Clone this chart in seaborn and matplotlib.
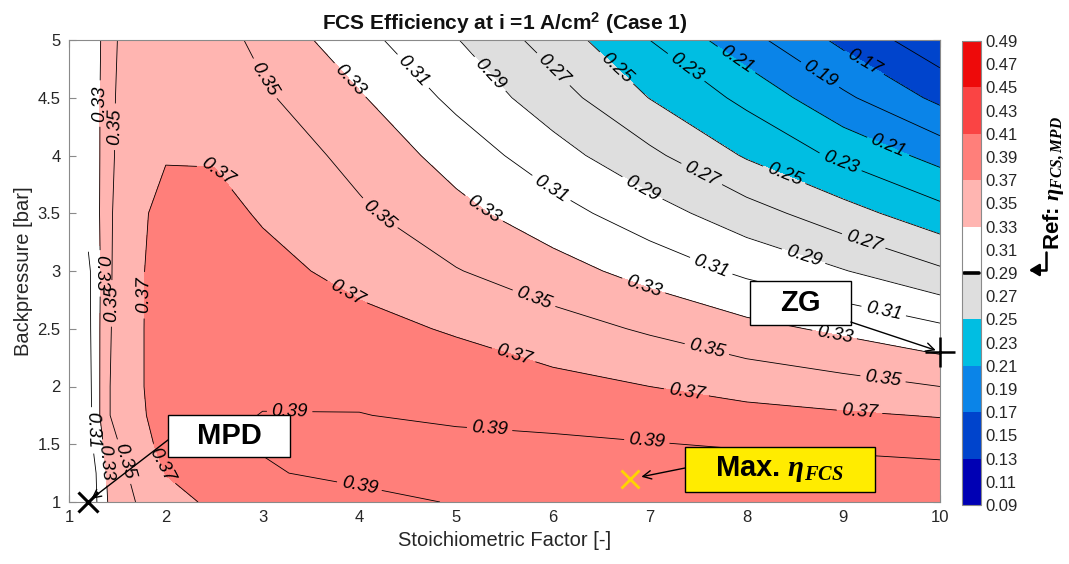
import numpy as np
import matplotlib
matplotlib.use("Agg")
import matplotlib.pyplot as plt
import seaborn as sns
from matplotlib.patches import Rectangle
from matplotlib.ticker import FormatStrFormatter

# ---------------- data ----------------
stoich = [1.2, 1.3, 1.4, 1.5, 1.75, 2.0, 2.5, 3.0, 4.0, 5.0, 6.0, 7.0, 8.0, 9.0, 10.0]
backpressure = [1.0, 1.25, 1.5, 1.75, 2.0, 2.5, 3.0, 3.5, 4.0, 4.5, 5.0]

eff_p100 = [0.295, 0.312, 0.330, 0.338, 0.354, 0.364, 0.373, 0.377, 0.385, 0.391, 0.394, 0.395, 0.395, 0.394, 0.393]
eff_p125 = [0.298, 0.313, 0.333, 0.344, 0.358, 0.3705, 0.378, 0.3885, 0.394, 0.397, 0.399, 0.3995, 0.399, 0.398, 0.396]
eff_p150 = [0.300, 0.323, 0.336, 0.3487, 0.364, 0.376, 0.386, 0.391, 0.395, 0.395, 0.394, 0.391, 0.388, 0.386, 0.383]
eff_p175 = [0.302, 0.326, 0.348, 0.356, 0.368, 0.378, 0.386, 0.3905, 0.3905, 0.3868, 0.3833, 0.3797, 0.3761, 0.3725, 0.3689]
eff_p200 = [0.303, 0.326, 0.348, 0.356, 0.369, 0.379, 0.385, 0.387, 0.386, 0.382, 0.376, 0.370, 0.363, 0.357, 0.350]
eff_p250 = [0.305, 0.326, 0.347, 0.355, 0.369, 0.379, 0.383, 0.382, 0.376, 0.368, 0.358, 0.3475, 0.336, 0.326, 0.314]
eff_p300 = [0.306, 0.325, 0.346, 0.355, 0.369, 0.377, 0.380, 0.376, 0.364, 0.351, 0.338, 0.3225, 0.306, 0.291, 0.273]
eff_p350 = [0.318, 0.327, 0.346, 0.354, 0.368, 0.375, 0.376, 0.368, 0.353, 0.336, 0.318, 0.2986, 0.2785, 0.258, 0.237]
eff_p400 = [0.318, 0.327, 0.343, 0.353, 0.362, 0.369, 0.3685, 0.362, 0.344, 0.322, 0.298, 0.2745, 0.248, 0.2255, 0.203]
eff_p450 = [0.318, 0.327, 0.342, 0.352, 0.361, 0.365, 0.362, 0.353, 0.332, 0.305, 0.279, 0.2495, 0.225, 0.194, 0.165]
eff_p500 = [0.318, 0.327, 0.338, 0.350, 0.358, 0.362, 0.358, 0.345, 0.3165, 0.291, 0.261, 0.230, 0.197, 0.165, 0.136]

fill_levels = [0.09, 0.13, 0.17, 0.21, 0.25, 0.29, 0.33, 0.37, 0.41, 0.45, 0.49]
band_colors = ["#0000B4", "#0044CC", "#0A84E8", "#00BEE2", "#DEDEDE",
               "#FFFFFF", "#FFB5B1", "#FF7F7A", "#FA4444", "#EE0A0A"]
line_levels = [0.15, 0.17, 0.19, 0.21, 0.23, 0.25, 0.27, 0.29, 0.31, 0.33, 0.35, 0.37, 0.39]
cbar_ticks = [0.09, 0.11, 0.13, 0.15, 0.17, 0.19, 0.21, 0.23, 0.25, 0.27, 0.29,
              0.31, 0.33, 0.35, 0.37, 0.39, 0.41, 0.43, 0.45, 0.47, 0.49]
ref_eff = 0.29

mpd_point = (1.2, 1.0)
zg_point = (10.0, 2.3)
max_point = (6.8, 1.2)

# ---------------- layout helpers (label anchors, boxes) ----------------
label_spots = {
    "0.17": [(9.22, 4.81)],
    "0.19": [(8.76, 4.70)],
    "0.21": [(7.88, 4.81), (9.45, 4.05)],
    "0.23": [(7.34, 4.72), (8.97, 3.94)],
    "0.25": [(6.54, 4.65), (8.38, 3.81)],
    "0.27": [(6.02, 4.76), (7.52, 3.81), (9.20, 3.23)],
    "0.29": [(5.28, 4.65), (6.90, 3.68), (8.58, 3.10)],
    "0.31": [(4.52, 4.70), (5.97, 3.70), (7.62, 3.01), (9.41, 2.62), (1.24, 1.62)],
    "0.33": [(3.80, 4.57), (5.28, 3.53), (6.93, 2.85), (8.90, 2.40),
             (1.27, 4.45), (1.27, 2.98), (1.35, 1.34)],
    "0.35": [(3.05, 4.68), (4.21, 3.50), (5.79, 2.73), (7.59, 2.32), (9.41, 2.06),
             (1.40, 4.25), (1.40, 2.72), (1.53, 1.34)],
    "0.37": [(2.46, 3.81), (3.87, 2.81), (5.59, 2.26), (7.38, 1.95), (9.17, 1.80),
             (1.79, 2.79), (1.91, 1.30)],
    "0.39": [(3.28, 1.80), (5.35, 1.68), (6.97, 1.52), (3.99, 1.09)],
}

# ---------------- style ----------------
sns.set_theme(style="ticks")
plt.rcParams["font.family"] = ["Liberation Sans", "DejaVu Sans"]
plt.rcParams.update({
    "mathtext.fontset": "custom",
    "mathtext.rm": "Liberation Sans",
    "mathtext.it": "Liberation Sans:italic",
    "mathtext.bf": "Liberation Sans:bold",
    "axes.edgecolor": "#8a8a8a",
    "axes.linewidth": 0.8,
    "xtick.color": "#8a8a8a",
    "ytick.color": "#8a8a8a",
    "xtick.labelcolor": "#262626",
    "ytick.labelcolor": "#262626",
})
has_bfit = "mathtext.bfit" in plt.rcParams
if has_bfit:
    plt.rcParams["mathtext.bfit"] = "Liberation Serif:italic:bold"
BF = r"\mathbfit" if has_bfit else r"\mathbf"

X, Y = np.meshgrid(stoich, backpressure)
Z = np.array([eff_p100, eff_p125, eff_p150, eff_p175, eff_p200, eff_p250,
              eff_p300, eff_p350, eff_p400, eff_p450, eff_p500])

fig = plt.figure(figsize=(10.69, 5.64), dpi=100)
ax = fig.add_axes([69 / 1069, 62 / 564, 871 / 1069, 462 / 564])
cax = fig.add_axes([962 / 1069, 59 / 564, 19 / 1069, 464 / 564])

palette = sns.color_palette(band_colors)
cf = ax.contourf(X, Y, Z, levels=fill_levels, colors=palette)

for lev in line_levels:
    cs = ax.contour(X, Y, Z, levels=[lev], colors="black", linewidths=0.6)
    spots = label_spots.get(f"{lev:.2f}")
    if spots:
        txts = ax.clabel(cs, manual=spots, fmt="%.2f", fontsize=13.5,
                         inline=True, inline_spacing=5)
        for t in txts:
            t.set_fontstyle("italic")
            t.set_color("black")

ax.set_xlim(1, 10)
ax.set_ylim(1, 5)
ax.set_xticks(range(1, 11))
ax.set_yticks([1, 1.5, 2, 2.5, 3, 3.5, 4, 4.5, 5])
ax.yaxis.set_major_formatter(FormatStrFormatter("%g"))
ax.tick_params(direction="in", length=5, width=0.8, labelsize=12,
               top=True, right=True, pad=6)
ax.set_xlabel("Stoichiometric Factor [-]", fontsize=14.5, color="#262626", labelpad=4)
ax.set_ylabel("Backpressure [bar]", fontsize=14.5, color="#262626", labelpad=3)
ax.set_title(r"FCS Efficiency at i =1 A/cm$^{\mathbf{2}}$ (Case 1)",
             fontsize=15, fontweight="bold", color="#111111", pad=7)

# markers
ax.plot([mpd_point[0]], [mpd_point[1]], marker="x", ms=15, mew=2.2,
        color="black", clip_on=False, zorder=8, ls="none")
ax.plot([zg_point[0]], [zg_point[1]], marker="+", ms=22, mew=1.8,
        color="black", clip_on=False, zorder=8, ls="none")
ax.plot([max_point[0]], [max_point[1]], marker="x", ms=13, mew=2,
        color="#FFD400", clip_on=False, zorder=8, ls="none")

# annotation boxes
def box(x0, x1, y0, y1, fc, text):
    ax.add_patch(Rectangle((x0, y0), x1 - x0, y1 - y0, facecolor=fc,
                           edgecolor="black", lw=1.0, zorder=9))
    ax.text((x0 + x1) / 2, (y0 + y1) / 2, text, ha="center", va="center",
            fontsize=21, fontweight="bold", color="black", zorder=10)

box(2.023, 3.283, 1.390, 1.753, "white", "MPD")
box(8.035, 9.079, 2.532, 2.913, "white", "ZG")
box(7.364, 9.326, 1.087, 1.476, "#FFEC00",
    "Max. $" + BF + r"{\eta}_{" + BF + r"{FCS}}$")

arrow_kw = dict(arrowstyle="->,head_length=0.5,head_width=0.25", color="black",
                lw=1.0, shrinkA=0, shrinkB=1)
ax.annotate("", xy=(1.22, 1.02), xytext=(2.023, 1.537), arrowprops=arrow_kw, zorder=9)
ax.annotate("", xy=(9.97, 2.31), xytext=(9.079, 2.558), arrowprops=arrow_kw, zorder=9,
            annotation_clip=False)
ax.annotate("", xy=(6.90, 1.216), xytext=(7.364, 1.294), arrowprops=arrow_kw, zorder=9)

# colorbar
cb = fig.colorbar(cf, cax=cax, ticks=cbar_ticks)
cb.ax.set_yticklabels([f"{t:.2f}" for t in cbar_ticks])
cb.ax.tick_params(direction="in", length=3, width=0.8, labelsize=12,
                  colors="#8a8a8a", labelcolor="#262626", pad=3)
cb.outline.set_edgecolor("#8a8a8a")
cb.outline.set_linewidth(0.8)
cb.ax.axhline(ref_eff, color="black", lw=2.6, xmin=0.1, xmax=0.9)

# reference note beside colorbar
fig.text(1054 / 1069, 314 / 564, "Ref: $" + BF + r"{\eta}_{" + BF + r"{FCS,MPD}}$",
         rotation=90, ha="center", va="bottom", fontsize=16, fontweight="bold",
         color="black")
ax.annotate("", xy=(1029, 564 - 270), xycoords="figure pixels",
            xytext=(1046, 564 - 252), textcoords="figure pixels",
            arrowprops=dict(arrowstyle="-|>,head_length=0.5,head_width=0.3",
                            color="black", lw=1.8,
                            connectionstyle="angle,angleA=90,angleB=0,rad=0",
                            shrinkA=0, shrinkB=0),
            annotation_clip=False)

fig.savefig("out.png", dpi=100)
